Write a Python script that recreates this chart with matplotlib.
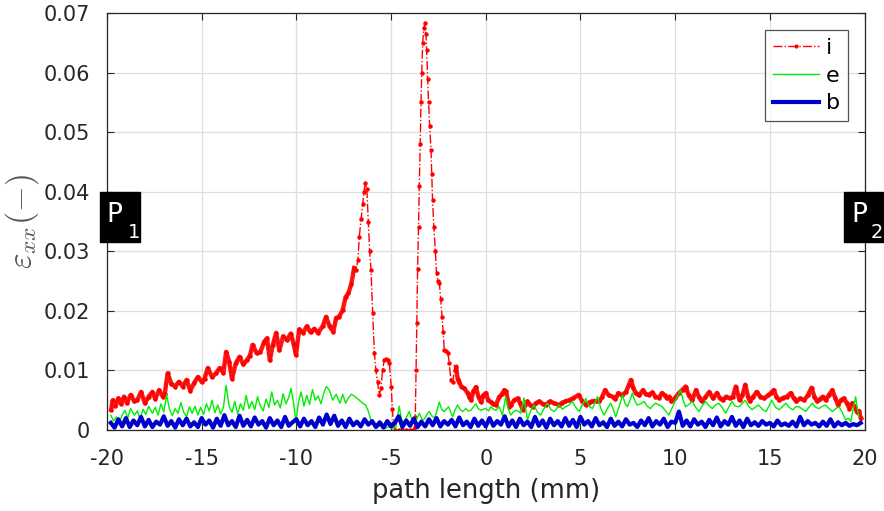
import numpy as np
import matplotlib
matplotlib.use('Agg')
import matplotlib.pyplot as plt
from matplotlib.patches import Rectangle

plt.rcParams['font.family'] = ['DejaVu Sans']
plt.rcParams['axes.unicode_minus'] = False

# strain values are given in units of 1e-3
red_x = [-19.78, -19.70, -19.55, -19.40, -19.25, -19.10, -18.95, -18.75, -18.55, -18.40,
         -18.20, -18.00, -17.80, -17.60, -17.45, -17.25, -17.05, -16.95, -16.80, -16.60,
         -16.40, -16.20, -16.00, -15.80, -15.60, -15.40, -15.20, -15.00, -14.85, -14.68,
         -14.45, -14.25, -14.05, -13.85, -13.71, -13.55, -13.40, -13.20, -13.00, -12.80,
         -12.60, -12.45, -12.31, -12.10, -11.90, -11.70, -11.55, -11.40, -11.25, -11.07,
         -10.90, -10.70, -10.50, -10.30, -10.15, -10.02, -9.85, -9.65, -9.45, -9.25,
         -9.05, -8.85, -8.60, -8.43, -8.25, -8.05, -7.90, -7.75, -7.56, -7.40,
         -7.25, -7.10, -6.95, -6.85, -6.75, -6.68, -6.58, -6.50, -6.43, -6.36,
         -6.28, -6.20, -6.13, -6.06, -5.97, -5.88, -5.80, -5.71, -5.62, -5.53,
         -5.45, -5.36, -5.27, -5.18, -5.09, -4.99, -4.93, -4.88, -4.80, -4.60,
         -4.40, -4.20, -4.00, -3.85, -3.75, -3.72, -3.68, -3.64, -3.60, -3.55,
         -3.51, -3.46, -3.42, -3.38, -3.33, -3.27, -3.21, -3.16, -3.12, -3.07,
         -3.02, -2.96, -2.89, -2.85, -2.81, -2.74, -2.66, -2.60, -2.52, -2.45,
         -2.38, -2.31, -2.25, -2.19, -2.10, -2.00, -1.93, -1.84, -1.75, -1.65,
         -1.57, -1.48, -1.40, -1.28, -1.13, -0.96, -0.86, -0.78, -0.65, -0.52,
         -0.38, -0.25, -0.12, 0.00, 0.13, 0.27, 0.40, 0.54, 0.70, 0.85,
         0.98, 1.07, 1.24, 1.33, 1.50, 1.68, 1.82, 1.95, 2.08, 2.20,
         2.35, 2.47, 2.65, 2.82, 3.00, 3.17, 3.30, 3.40, 3.60, 3.87,
         4.05, 4.20, 4.40, 4.60, 4.90, 5.10, 5.30, 5.45, 5.60, 5.80,
         6.00, 6.15, 6.30, 6.50, 6.70, 6.85, 7.00, 7.20, 7.40, 7.55,
         7.66, 7.80, 7.92, 8.10, 8.30, 8.45, 8.60, 8.80, 8.96, 9.15,
         9.30, 9.45, 9.57, 9.70, 9.80, 10.00, 10.20, 10.40, 10.55, 10.72,
         10.90, 11.10, 11.25, 11.40, 11.60, 11.80, 12.00, 12.20, 12.35, 12.50,
         12.70, 12.90, 13.05, 13.20, 13.40, 13.55, 13.70, 13.85, 13.95, 14.10,
         14.30, 14.50, 14.70, 14.90, 15.05, 15.20, 15.35, 15.50, 15.70, 15.90,
         16.10, 16.25, 16.40, 16.60, 16.80, 17.00, 17.20, 17.35, 17.50, 17.65,
         17.80, 17.95, 18.10, 18.30, 18.45, 18.60, 18.75, 18.90, 19.05, 19.20,
         19.35, 19.50, 19.60, 19.70, 19.80]
red_y = [3.4, 5.0, 4.0, 5.3, 4.4, 5.6, 4.5, 5.9, 4.8, 5.0,
         6.4, 4.5, 5.6, 6.4, 5.2, 6.7, 5.6, 6.0, 9.5, 7.8,
         7.3, 8.1, 7.3, 8.4, 6.6, 7.9, 8.9, 8.1, 8.6, 10.4,
         8.9, 9.5, 10.4, 9.6, 13.1, 11.5, 8.6, 11.2, 12.3, 11.0,
         11.8, 12.5, 14.3, 12.9, 13.1, 14.8, 15.4, 11.7, 14.2, 16.3,
         13.4, 15.7, 15.1, 16.2, 14.5, 12.6, 16.9, 16.3, 17.4, 16.4,
         17.0, 16.3, 17.5, 19.0, 17.4, 16.5, 18.8, 19.0, 20.1, 22.3,
         23.0, 24.5, 27.2, 26.8, 28.5, 32.4, 35.5, 38.0, 40.0, 41.4,
         40.5, 35.0, 30.0, 26.8, 19.6, 12.9, 10.0, 8.0, 5.9, 7.0,
         10.0, 11.7, 12.0, 11.7, 11.3, 7.2, 3.5, 1.2, 0.0, 0.0,
         0.0, 0.0, 0.0, 0.0, 0.5, 2.2, 10.0, 18.0, 27.0, 34.0,
         41.0, 48.0, 55.0, 60.0, 65.0, 67.5, 68.3, 66.5, 63.8, 59.0,
         55.0, 51.0, 47.0, 43.0, 38.6, 34.0, 30.0, 26.3, 25.0, 24.7,
         22.0, 19.0, 16.5, 13.4, 13.2, 13.0, 11.2, 8.4, 8.0, 10.0,
         10.6, 8.5, 8.0, 7.2, 7.0, 6.2, 5.5, 5.0, 6.5, 7.2,
         5.5, 4.7, 5.8, 6.2, 5.0, 4.7, 4.4, 4.2, 5.5, 6.0,
         6.7, 6.5, 3.9, 4.2, 5.0, 5.3, 4.5, 3.4, 4.2, 4.8,
         4.2, 3.9, 4.5, 4.8, 4.4, 4.2, 4.6, 4.8, 4.5, 4.2,
         4.6, 4.8, 5.0, 5.3, 5.9, 4.8, 4.2, 4.6, 4.8, 4.9,
         4.8, 5.6, 6.7, 5.8, 5.6, 5.2, 6.2, 5.8, 6.4, 7.5,
         8.4, 7.0, 6.2, 5.8, 6.7, 6.0, 5.9, 6.3, 5.6, 5.4,
         6.2, 5.8, 5.3, 5.6, 4.8, 5.4, 6.2, 6.8, 7.3, 5.8,
         5.0, 6.7, 5.6, 4.8, 5.5, 6.4, 5.3, 6.2, 5.4, 5.0,
         5.6, 5.3, 5.6, 7.3, 5.0, 5.8, 7.6, 5.6, 4.8, 5.5,
         6.4, 5.6, 5.3, 5.8, 6.2, 6.7, 5.6, 5.0, 5.4, 5.6,
         6.2, 5.4, 4.8, 5.3, 5.0, 5.8, 7.1, 5.6, 4.8, 5.2,
         5.6, 5.0, 5.8, 6.7, 5.4, 4.2, 5.0, 5.3, 4.6, 3.6,
         4.5, 3.8, 3.0, 3.2, 2.0]

green_x = [-19.80, -19.65, -19.50, -19.35, -19.20, -19.05, -18.90, -18.75, -18.55, -18.40,
           -18.25, -18.10, -17.95, -17.80, -17.60, -17.45, -17.30, -17.15, -17.00, -16.85,
           -16.70, -16.55, -16.40, -16.25, -16.10, -15.95, -15.80, -15.65, -15.50, -15.35,
           -15.20, -15.05, -14.90, -14.75, -14.60, -14.45, -14.30, -14.15, -14.00, -13.85,
           -13.71, -13.55, -13.40, -13.25, -13.10, -12.95, -12.80, -12.65, -12.50, -12.35,
           -12.20, -12.05, -11.90, -11.75, -11.60, -11.45, -11.30, -11.15, -11.00, -10.85,
           -10.70, -10.55, -10.40, -10.28, -10.15, -10.02, -9.90, -9.75, -9.60, -9.45,
           -9.30, -9.15, -9.00, -8.85, -8.70, -8.55, -8.42, -8.26, -8.08, -7.90,
           -7.70, -7.55, -7.40, -7.25, -7.10, -6.90, -6.67, -6.50, -6.35, -6.23,
           -6.06, -5.88, -5.70, -5.50, -5.30, -5.10, -4.90, -4.74, -4.57, -4.45,
           -4.30, -4.15, -4.04, -3.90, -3.77, -3.65, -3.50, -3.35, -3.20, -3.10,
           -2.98, -2.85, -2.70, -2.58, -2.45, -2.32, -2.19, -2.08, -1.96, -1.85,
           -1.75, -1.62, -1.49, -1.36, -1.23, -1.12, -1.05, -0.92, -0.79, -0.65,
           -0.52, -0.40, -0.26, -0.12, 0.00, 0.15, 0.26, 0.40, 0.53, 0.71,
           0.88, 1.05, 1.20, 1.32, 1.45, 1.58, 1.76, 1.84, 2.02, 2.20,
           2.38, 2.55, 2.72, 2.90, 3.08, 3.26, 3.45, 3.61, 3.75, 3.87,
           4.05, 4.22, 4.40, 4.57, 4.75, 4.93, 5.10, 5.28, 5.45, 5.63,
           5.80, 5.90, 6.08, 6.25, 6.42, 6.60, 6.75, 6.86, 7.05, 7.22,
           7.35, 7.48, 7.62, 7.74, 7.88, 8.00, 8.18, 8.36, 8.52, 8.70,
           8.85, 8.97, 9.15, 9.32, 9.50, 9.67, 9.85, 10.02, 10.15, 10.29,
           10.42, 10.55, 10.72, 10.90, 11.08, 11.26, 11.42, 11.60, 11.78, 11.96,
           12.13, 12.30, 12.48, 12.66, 12.84, 13.00, 13.18, 13.37, 13.53, 13.70,
           13.88, 14.06, 14.22, 14.40, 14.60, 14.80, 14.95, 15.10, 15.30, 15.50,
           15.68, 15.85, 16.02, 16.20, 16.38, 16.55, 16.72, 16.90, 17.08, 17.25,
           17.42, 17.60, 17.78, 17.95, 18.12, 18.30, 18.48, 18.65, 18.82, 19.00,
           19.15, 19.27, 19.40, 19.53, 19.62, 19.70]
green_y = [2.5, 1.5, 2.2, 1.2, 2.5, 3.3, 2.0, 3.6, 2.5, 3.2,
           1.8, 3.5, 2.6, 4.0, 2.8, 3.8, 2.5, 4.4, 3.0, 5.9,
           3.5, 2.4, 3.6, 2.8, 4.6, 3.0, 2.2, 3.9, 2.8, 4.0,
           2.5, 3.8, 2.6, 4.4, 3.2, 5.0, 2.9, 4.2, 2.7, 3.8,
           7.5, 4.0, 3.0, 4.8, 2.7, 4.4, 3.3, 5.8, 3.6, 4.8,
           3.4, 5.6, 4.0, 3.2, 5.2, 3.8, 6.4, 4.2, 5.0, 3.7,
           6.1, 4.4, 5.5, 7.0, 4.6, 1.2, 4.5, 6.4, 4.0, 5.8,
           4.3, 6.8, 5.0, 5.7, 4.4, 6.2, 7.3, 6.7, 5.0, 6.0,
           4.5, 6.0, 4.5, 5.4, 6.0, 5.6, 5.0, 4.5, 4.2, 3.4,
           1.7, 1.2, 0.5, 0.8, 0.3, 0.6, 0.2, 0.5, 4.0, 1.8,
           1.2, 2.4, 3.1, 1.8, 1.0, 1.9, 2.8, 1.6, 2.0, 2.7,
           3.1, 2.4, 2.0, 3.2, 4.7, 3.4, 3.1, 3.5, 3.9, 3.0,
           2.2, 3.4, 4.2, 3.5, 3.1, 3.4, 3.6, 3.2, 3.3, 3.9,
           4.4, 3.6, 3.3, 3.5, 3.6, 3.2, 3.9, 3.5, 3.3, 3.9,
           2.5, 5.6, 3.5, 2.5, 3.0, 3.3, 3.1, 2.8, 5.4, 1.7,
           3.3, 4.2, 3.0, 2.5, 3.6, 4.5, 3.4, 3.1, 3.6, 4.2,
           3.5, 3.9, 4.2, 4.8, 3.8, 3.1, 4.2, 5.3, 4.0, 3.6,
           4.8, 5.6, 3.6, 2.5, 3.6, 4.5, 3.3, 2.2, 4.0, 5.9,
           4.5, 3.9, 5.0, 6.2, 4.8, 4.2, 4.4, 4.8, 4.0, 3.6,
           4.2, 4.5, 4.2, 3.9, 3.2, 2.5, 3.8, 5.0, 5.8, 6.7,
           5.0, 3.9, 4.3, 4.8, 3.8, 3.1, 4.0, 4.8, 4.1, 3.6,
           4.2, 4.5, 3.8, 2.8, 3.9, 4.8, 4.0, 3.9, 4.4, 5.0,
           4.0, 3.4, 3.8, 4.2, 3.5, 3.1, 4.0, 5.0, 3.8, 3.4,
           4.0, 4.5, 3.8, 3.4, 3.9, 3.9, 3.5, 3.1, 3.9, 4.5,
           3.8, 3.6, 4.0, 4.2, 3.6, 3.1, 3.6, 3.9, 3.0, 1.7,
           2.0, 1.4, 3.5, 5.6, 3.5, 2.2]

# blue series sampled every 0.2 mm from -19.8 to 19.8
blue_y = [1.2, 0.4, 1.8, 0.6, 2.0, 0.5, 1.6, 0.8, 2.2, 0.6,
          1.7, 0.5, 1.4, 0.9, 2.3, 0.7, 1.5, 0.4, 1.8, 0.8,
          1.9, 0.6, 1.3, 0.5, 2.0, 0.9, 1.6, 0.4, 1.9, 0.7,
          2.5, 0.8, 1.5, 0.5, 2.4, 0.7, 1.7, 0.6, 2.1, 0.9,
          1.5, 0.4, 2.0, 0.8, 1.6, 0.5, 2.2, 0.7, 1.3, 1.8,
          0.6, 1.9, 0.8, 1.5, 0.5, 2.1, 0.9, 2.6, 1.0, 2.4,
          0.7, 1.6, 0.5, 1.9, 0.8, 1.4, 0.6, 1.8, 0.9, 1.5,
          0.5, 1.3, 0.4, 1.5, 0.6, 1.2, 2.3, 0.5, 1.6, 0.7,
          1.9, 0.5, 1.4, 0.6, 1.8, 0.8, 2.0, 0.6, 1.5, 0.9,
          1.7, 0.6, 2.1, 0.8, 1.4, 0.5, 1.9, 0.7, 1.6, 0.6,
          2.0, 0.7, 1.5, 0.9, 2.3, 0.6, 1.6, 0.5, 1.9, 0.8,
          1.4, 0.5, 2.2, 0.7, 1.6, 0.4, 1.9, 0.8, 1.5, 0.6,
          2.0, 0.7, 1.7, 0.5, 2.2, 0.9, 1.5, 0.6, 2.0, 0.8,
          1.3, 0.5, 1.9, 0.7, 1.4, 0.6, 1.8, 0.9, 1.2, 0.5,
          1.6, 0.8, 2.0, 0.6, 1.5, 0.9, 1.9, 0.5, 1.4, 1.2,
          3.1, 0.7, 1.6, 0.6, 1.8, 0.9, 1.4, 0.5, 1.7, 0.8,
          2.1, 0.6, 1.5, 0.9, 2.2, 0.7, 1.6, 0.5, 1.9, 0.8,
          1.3, 0.7, 1.5, 0.9, 1.2, 0.6, 1.6, 0.8, 1.1, 0.7,
          1.4, 0.6, 2.2, 0.8, 1.5, 0.9, 1.2, 0.6, 1.4, 0.7,
          1.8, 0.6, 1.3, 0.8, 1.2, 0.7, 1.0, 0.8, 1.2]
blue_x = np.linspace(-19.8, 19.8, len(blue_y))

labels = ['i', 'e', 'b']
x_ticks = [-20, -15, -10, -5, 0, 5, 10, 15, 20]
y_ticks = [0, 0.01, 0.02, 0.03, 0.04, 0.05, 0.06, 0.07]
y_ticklabels = ['0', '0.01', '0.02', '0.03', '0.04', '0.05', '0.06', '0.07']

dark = '#262626'

fig = plt.figure(figsize=(8.84, 5.11), dpi=100)
ax = fig.add_axes([0.121, 0.1585, 0.857, 0.816])

rx = np.array(red_x)
ry = np.array(red_y) * 1e-3
# where the red samples are dense the markers merge into a thick band
dense = (rx < -6.9) | (rx > -1.6)
ax.plot(rx, np.ma.masked_where(~dense, ry), color='#ff1a1a', lw=3.2,
        solid_joinstyle='round')
ax.plot(rx, ry, color='#ff0000', lw=1, linestyle='-.',
        marker='o', markersize=3.2, markeredgewidth=0, label=labels[0])
ax.plot(green_x, np.array(green_y) * 1e-3, color='#00ee00', lw=1, label=labels[1])
ax.plot(blue_x, np.array(blue_y) * 1e-3, color='#0000cc', lw=3, label=labels[2])

ax.set_xlim(-20, 20)
ax.set_ylim(0, 0.07)
ax.set_xticks(x_ticks)
ax.set_xticklabels([str(t) for t in x_ticks])
ax.set_yticks(y_ticks)
ax.set_yticklabels(y_ticklabels)
ax.grid(True, color='#dedede', lw=0.9)
ax.set_axisbelow(True)
ax.tick_params(direction='in', top=True, right=True, length=5, width=0.8,
               labelsize=15, colors=dark)
ax.tick_params(axis='x', pad=14)
ax.tick_params(axis='y', pad=12)
for s in ax.spines.values():
    s.set_color(dark)
    s.set_linewidth(0.9)

ax.set_xlabel('path length (mm)', fontsize=18.5, color=dark, labelpad=6)
ax.set_ylabel(r'$\varepsilon_{xx}(-)$', fontsize=24, color='#555555',
              math_fontfamily='cm', labelpad=2)

leg = ax.legend(loc='upper right', bbox_to_anchor=(0.978, 0.959), borderaxespad=0,
                fontsize=16, handlelength=2.1, labelspacing=0.35, fancybox=False,
                handletextpad=0.3, borderpad=0.35, numpoints=1)
leg.get_frame().set_edgecolor(dark)
leg.get_frame().set_linewidth(0.9)
leg.legend_handles[0].set_markersize(3)

# P1 / P2 markers at both ends of the path
for x0, main, sub, sx, tx in [(-0.009, 'P', '1', 0.0092, 0.0356),
                              (0.9723, 'P', '2', 0.9934, 1.0158)]:
    ax.add_patch(Rectangle((x0, 0.451), 0.0528, 0.12, transform=ax.transAxes,
                           facecolor='black', edgecolor='black', clip_on=False, zorder=10))
    ax.text(sx, 0.516, main, transform=ax.transAxes, color='white', fontsize=19,
            ha='center', va='center', zorder=11, clip_on=False)
    ax.text(tx, 0.474, sub, transform=ax.transAxes, color='white', fontsize=14,
            ha='center', va='center', zorder=11, clip_on=False)

plt.savefig('out.png', dpi=100)
plt.close()
